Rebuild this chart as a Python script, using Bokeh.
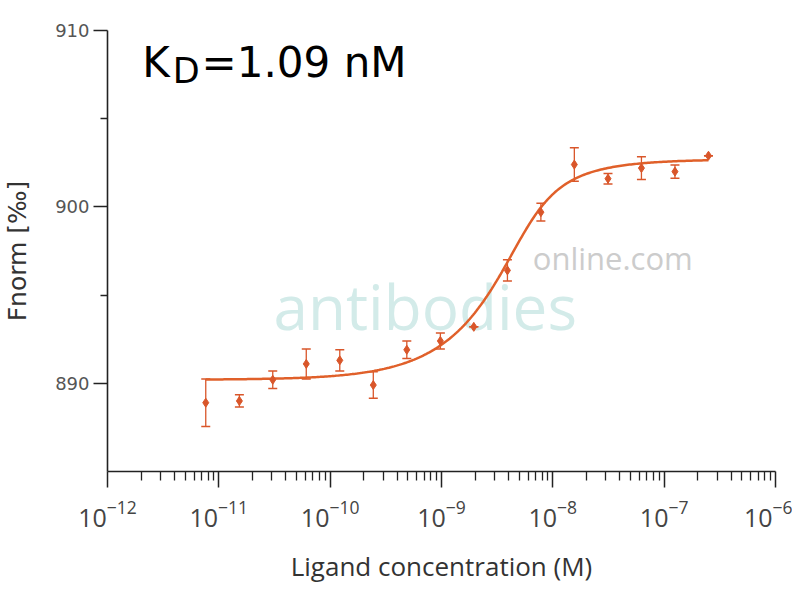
import numpy as np
from bokeh.plotting import figure
from bokeh.models import (ColumnDataSource, Whisker, TeeHead, Label, FixedTicker,
                          LogTickFormatter, Range1d)
from bokeh.embed import file_html
from bokeh.resources import INLINE

# ---- data ----
conc_M = [7.63e-12, 1.53e-11, 3.05e-11, 6.10e-11, 1.22e-10, 2.44e-10, 4.88e-10, 9.77e-10,
          1.95e-9, 3.91e-9, 7.81e-9, 1.56e-8, 3.13e-8, 6.25e-8, 1.25e-7, 2.50e-7]
fnorm = [888.9, 889.0, 890.2, 891.1, 891.3, 889.9, 891.9, 892.4,
         893.2, 896.4, 899.7, 902.4, 901.6, 902.2, 902.0, 902.9]
fnorm_err = [1.35, 0.35, 0.5, 0.85, 0.6, 0.75, 0.5, 0.45,
             0.0, 0.6, 0.5, 0.95, 0.3, 0.65, 0.38, 0.0]

# fit parameters (Kd model)
kd_M = 1.09e-9
target_M = 5.0e-9
unbound = 890.2
bound = 902.7

x_ticks = [1e-12, 1e-11, 1e-10, 1e-9, 1e-8, 1e-7, 1e-6]
y_ticks = [890, 900, 910]
y_minor = [895, 905]

# ---- fit curve from the Kd model ----
cl = np.logspace(np.log10(conc_M[0]), np.log10(conc_M[-1]), 300)
s = target_M + cl + kd_M
frac = (s - np.sqrt(s * s - 4 * target_M * cl)) / (2 * target_M)
fit = unbound + (bound - unbound) * frac

LINE = "#e0602a"
PT = "#d9562a"

p = figure(width=792, height=590, x_axis_type="log",
           x_range=Range1d(1e-12, 1e-6), y_range=Range1d(885, 910),
           output_backend="svg", toolbar_location=None,
           min_border_left=107, min_border_right=17, min_border_top=30, min_border_bottom=119)
p.outline_line_color = None
p.xgrid.visible = False
p.ygrid.visible = False
p.background_fill_color = "white"

# watermark (behind the data)
p.add_layout(Label(x=3.1e-11, y=894.4, text="antibodies", text_font="Open Sans",
                   text_font_size="62px", text_color="#d3ebe9", text_baseline="alphabetic",
                   level="underlay"))
p.add_layout(Label(x=6.6e-9, y=897.1, text="online.com", text_font="Open Sans",
                   text_font_size="31px", text_color="#cccccc", text_baseline="alphabetic",
                   level="underlay"))

src = ColumnDataSource(dict(x=conc_M, y=fnorm,
                            upper=[v + e for v, e in zip(fnorm, fnorm_err)],
                            lower=[v - e for v, e in zip(fnorm, fnorm_err)]))

p.line(cl, fit, line_color=LINE, line_width=2.5)
w = Whisker(source=src, base="x", upper="upper", lower="lower", dimension="height",
            line_color=PT, line_width=1.3,
            upper_head=TeeHead(size=9, line_color=PT, line_width=1.5),
            lower_head=TeeHead(size=9, line_color=PT, line_width=1.5))
p.add_layout(w)
p.scatter("x", "y", source=src, marker="diamond", size=9, fill_color=PT, line_color=PT)

# title-like annotation KD=1.09 nM
p.add_layout(Label(x=2.05e-12, y=908.2, text="K", text_font="DejaVu Sans",
                   text_font_size="42px", text_color="black", text_baseline="alphabetic"))
p.add_layout(Label(x=3.85e-12, y=907.7, text="D", text_font="DejaVu Sans",
                   text_font_size="35px", text_color="black", text_baseline="alphabetic"))
p.add_layout(Label(x=7.0e-12, y=908.2, text="=1.09 nM", text_font="DejaVu Sans",
                   text_font_size="42px", text_color="black", text_baseline="alphabetic"))

# axes
xa = p.xaxis[0]
xa.ticker = FixedTicker(ticks=x_ticks,
                        minor_ticks=[m * t for t in x_ticks[:-1] for m in range(2, 10)])
xa.formatter = LogTickFormatter()
xa.axis_label = "Ligand concentration (M)"
xa.axis_label_text_font = "Open Sans"
xa.axis_label_text_font_style = "normal"
xa.axis_label_text_font_size = "26px"
xa.axis_label_text_color = "#333333"
xa.axis_label_standoff = 18
xa.major_label_text_font = "Open Sans"
xa.major_label_text_font_size = "25px"
xa.major_label_text_color = "#444444"
xa.major_label_standoff = 12
xa.axis_line_color = "#222222"
xa.axis_line_width = 1.6
xa.major_tick_line_color = "#222222"
xa.major_tick_line_width = 1.5
xa.major_tick_out = 16
xa.major_tick_in = 0
xa.minor_tick_line_color = "#222222"
xa.minor_tick_line_width = 1.3
xa.minor_tick_out = 9
xa.minor_tick_in = 0

ya = p.yaxis[0]
ya.ticker = FixedTicker(ticks=y_ticks, minor_ticks=y_minor)
ya.axis_label = "Fnorm [‰]"
ya.axis_label_text_font = "DejaVu Sans"
ya.axis_label_text_font_style = "normal"
ya.axis_label_text_font_size = "25px"
ya.axis_label_text_color = "#333333"
ya.axis_label_standoff = 20
ya.major_label_text_font = "DejaVu Sans"
ya.major_label_text_font_size = "18px"
ya.major_label_text_color = "#555555"
ya.major_label_standoff = 4
ya.axis_line_color = "#222222"
ya.axis_line_width = 1.6
ya.major_tick_line_color = "#222222"
ya.major_tick_line_width = 1.5
ya.major_tick_out = 14
ya.major_tick_in = 0
ya.minor_tick_line_color = "#222222"
ya.minor_tick_line_width = 1.3
ya.minor_tick_out = 7
ya.minor_tick_in = 0

open("out.html", "w").write(file_html(p, INLINE))
